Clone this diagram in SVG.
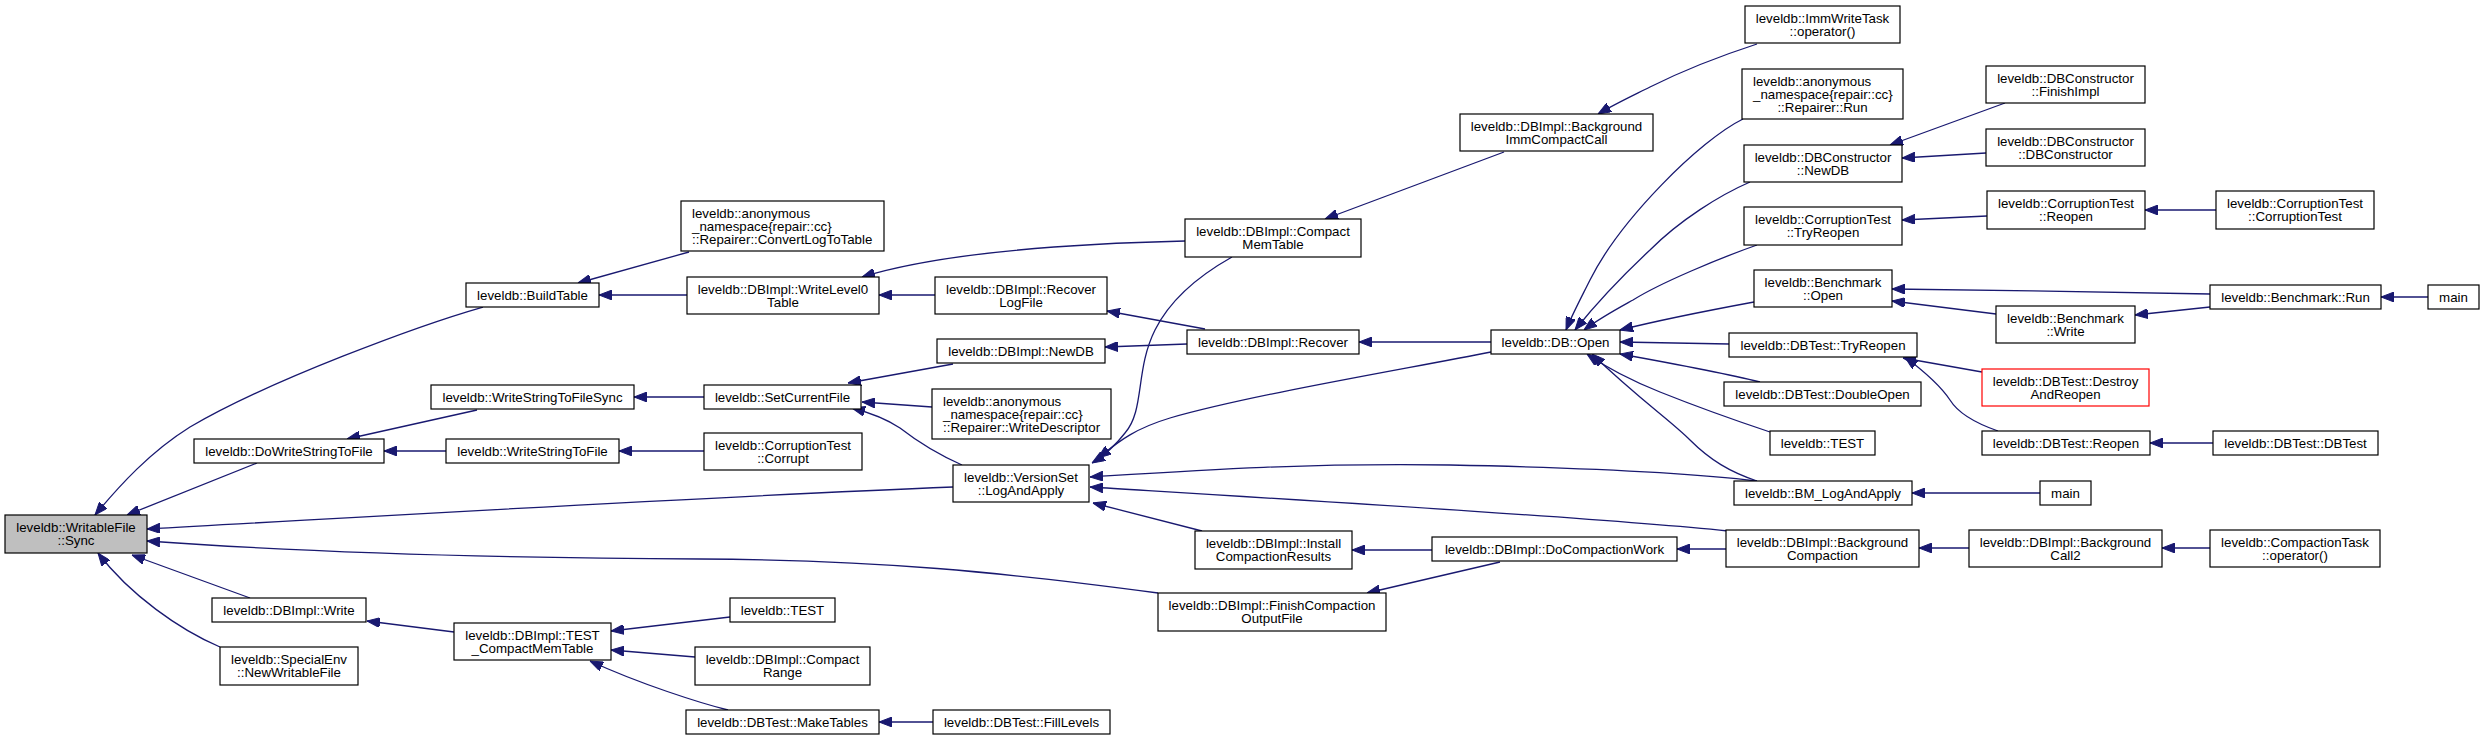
<svg xmlns="http://www.w3.org/2000/svg" width="2484" height="740" viewBox="0 0 2484 740">
<style>
.n rect{fill:#fff;stroke:#000;stroke-width:1.2}
.n.root rect{fill:#bfbfbf}
.n.red rect{stroke:#ff0000}
.n text{font-family:"Liberation Sans",Arial,sans-serif;font-size:13.3px;fill:#000;text-anchor:middle}
.n text.l{text-anchor:start}
#edges path{fill:none;stroke:#191970;stroke-width:1.3;marker-end:url(#ah)}
</style>
<defs>
<marker id="ah" viewBox="0 0 13 10" refX="13" refY="5" markerWidth="13" markerHeight="10" markerUnits="userSpaceOnUse" orient="auto">
<path d="M0,0 L13,5 L0,10 z" fill="#191970" stroke="#191970" stroke-width="1"/>
</marker>
</defs>
<rect width="2484" height="740" fill="#fff"/>
<g id="edges">
<path d="M483,307 C420,325 270,380 190,427 C150,452 120,485 95,515"/>
<path d="M257,463 L127,515"/>
<path d="M953,487 C700,497 400,515 147,529"/>
<path d="M1158,593 C1000,572 880,560 700,559 C500,558 300,552 147,541"/>
<path d="M250,598 L132,555"/>
<path d="M220,647 C180,630 130,595 98,553"/>
<path d="M689,252 L578,283"/>
<path d="M687,295 L599,295"/>
<path d="M1185,241 C1100,243 950,250 862,277"/>
<path d="M935,295 L879,295"/>
<path d="M477,410 L347,439"/>
<path d="M446,451 L384,451"/>
<path d="M704,397 L634,397"/>
<path d="M704,451 L619,451"/>
<path d="M953,364 L848,383"/>
<path d="M932,407 L862,402"/>
<path d="M962,465 C935,453 918,442 900,428 C888,420 875,414 852,408"/>
<path d="M454,632 L367,621"/>
<path d="M730,617 L611,631"/>
<path d="M695,657 L611,650"/>
<path d="M728,710 C700,703 640,684 590,661"/>
<path d="M933,722 L879,722"/>
<path d="M1205,329 L1107,311"/>
<path d="M1187,344 L1105,347"/>
<path d="M1504,152 L1325,219"/>
<path d="M1232,257 C1200,275 1170,300 1155,330 C1135,370 1145,410 1125,433 C1115,446 1105,455 1092,463"/>
<path d="M1491,352 C1400,370 1250,395 1170,418 C1130,430 1115,445 1098,458"/>
<path d="M1757,481 C1700,474 1600,468 1450,465 C1300,463 1200,470 1090,477"/>
<path d="M1728,531 C1600,518 1300,500 1090,487"/>
<path d="M1202,531 L1093,503"/>
<path d="M1432,550 L1352,550"/>
<path d="M1500,562 L1367,593"/>
<path d="M1726,549 L1677,549"/>
<path d="M1491,342 L1359,342"/>
<path d="M1757,44 C1720,56 1680,72 1650,87 C1630,97 1615,104 1598,114"/>
<path d="M1743,119 C1700,140 1620,220 1590,280 C1580,300 1572,315 1566,330"/>
<path d="M1750,182 C1720,195 1680,220 1650,250 C1620,278 1595,305 1575,330"/>
<path d="M1757,245 C1720,258 1660,283 1633,300 C1615,310 1600,318 1584,330"/>
<path d="M1754,302 C1700,312 1660,320 1620,330"/>
<path d="M1729,344 L1620,342"/>
<path d="M1760,382 C1720,372 1670,363 1620,354"/>
<path d="M1770,432 C1740,422 1700,408 1660,392 C1635,382 1610,370 1587,354"/>
<path d="M1757,481 C1730,472 1710,460 1690,440 C1670,420 1640,400 1592,354"/>
<path d="M2005,103 L1890,145"/>
<path d="M1986,153 L1902,158"/>
<path d="M1987,216 L1902,220"/>
<path d="M2216,210 L2145,210"/>
<path d="M2210,294 C2100,292 2000,290 1892,289"/>
<path d="M1996,314 L1892,301"/>
<path d="M2210,307 L2135,315"/>
<path d="M2428,297 L2381,297"/>
<path d="M1982,372 L1903,358"/>
<path d="M1998,431 C1975,423 1958,413 1950,400 C1940,385 1925,372 1905,357"/>
<path d="M2213,443 L2150,443"/>
<path d="M2040,493 L1912,493"/>
<path d="M1969,548 L1919,548"/>
<path d="M2210,548 L2162,548"/>
</g>
<g id="n_sync" class="n root"><rect x="5" y="515" width="142" height="38"/><text x="76" y="532">leveldb::WritableFile</text><text x="76" y="545">::Sync</text></g>
<g id="n_buildtable" class="n"><rect x="466" y="283" width="133" height="24"/><text x="532.5" y="299.5">leveldb::BuildTable</text></g>
<g id="n_dowrite" class="n"><rect x="194" y="439" width="190" height="24"/><text x="289" y="455.5">leveldb::DoWriteStringToFile</text></g>
<g id="n_write" class="n"><rect x="212" y="598" width="154" height="24"/><text x="289" y="614.5">leveldb::DBImpl::Write</text></g>
<g id="n_newwritable" class="n"><rect x="220" y="647" width="138" height="38"/><text x="289" y="664">leveldb::SpecialEnv</text><text x="289" y="677">::NewWritableFile</text></g>
<g id="n_convertlog" class="n"><rect x="681" y="201" width="203" height="50"/><text class="l" x="692" y="217.5">leveldb::anonymous</text><text class="l" x="692" y="230.5">_namespace{repair::cc}</text><text class="l" x="692" y="243.5">::Repairer::ConvertLogToTable</text></g>
<g id="n_writelevel0" class="n"><rect x="687" y="277" width="192" height="37"/><text x="783" y="294">leveldb::DBImpl::WriteLevel0</text><text x="783" y="307">Table</text></g>
<g id="n_wsfsync" class="n"><rect x="431" y="385" width="203" height="24"/><text x="532.5" y="401.5">leveldb::WriteStringToFileSync</text></g>
<g id="n_setcurrent" class="n"><rect x="704" y="385" width="157" height="24"/><text x="782.5" y="401.5">leveldb::SetCurrentFile</text></g>
<g id="n_wsf" class="n"><rect x="446" y="439" width="173" height="24"/><text x="532.5" y="455.5">leveldb::WriteStringToFile</text></g>
<g id="n_corrupt" class="n"><rect x="704" y="433" width="158" height="37"/><text x="783" y="450">leveldb::CorruptionTest</text><text x="783" y="463">::Corrupt</text></g>
<g id="n_testcmt" class="n"><rect x="454" y="623" width="157" height="37"/><text x="532.5" y="640">leveldb::DBImpl::TEST</text><text x="532.5" y="653">_CompactMemTable</text></g>
<g id="n_test1" class="n"><rect x="730" y="598" width="105" height="24"/><text x="782.5" y="614.5">leveldb::TEST</text></g>
<g id="n_compactrange" class="n"><rect x="695" y="647" width="175" height="38"/><text x="782.5" y="664">leveldb::DBImpl::Compact</text><text x="782.5" y="677">Range</text></g>
<g id="n_maketables" class="n"><rect x="686" y="710" width="193" height="24"/><text x="782.5" y="726.5">leveldb::DBTest::MakeTables</text></g>
<g id="n_filllevels" class="n"><rect x="933" y="710" width="177" height="24"/><text x="1021.5" y="726.5">leveldb::DBTest::FillLevels</text></g>
<g id="n_recoverlog" class="n"><rect x="935" y="277" width="172" height="37"/><text x="1021" y="294">leveldb::DBImpl::Recover</text><text x="1021" y="307">LogFile</text></g>
<g id="n_newdb" class="n"><rect x="937" y="339" width="168" height="24"/><text x="1021" y="355.5">leveldb::DBImpl::NewDB</text></g>
<g id="n_writedesc" class="n"><rect x="932" y="389" width="179" height="50"/><text class="l" x="943" y="405.5">leveldb::anonymous</text><text class="l" x="943" y="418.5">_namespace{repair::cc}</text><text class="l" x="943" y="431.5">::Repairer::WriteDescriptor</text></g>
<g id="n_logandapply" class="n"><rect x="953" y="465" width="136" height="37"/><text x="1021" y="482">leveldb::VersionSet</text><text x="1021" y="495">::LogAndApply</text></g>
<g id="n_install" class="n"><rect x="1195" y="531" width="157" height="38"/><text x="1273.5" y="548">leveldb::DBImpl::Install</text><text x="1273.5" y="561">CompactionResults</text></g>
<g id="n_finishcomp" class="n"><rect x="1158" y="593" width="228" height="38"/><text x="1272" y="610">leveldb::DBImpl::FinishCompaction</text><text x="1272" y="623">OutputFile</text></g>
<g id="n_compactmem" class="n"><rect x="1185" y="219" width="176" height="38"/><text x="1273" y="236">leveldb::DBImpl::Compact</text><text x="1273" y="249">MemTable</text></g>
<g id="n_bgimm" class="n"><rect x="1460" y="114" width="193" height="37"/><text x="1556.5" y="131">leveldb::DBImpl::Background</text><text x="1556.5" y="144">ImmCompactCall</text></g>
<g id="n_recover" class="n"><rect x="1187" y="330" width="172" height="24"/><text x="1273" y="346.5">leveldb::DBImpl::Recover</text></g>
<g id="n_dbopen" class="n"><rect x="1491" y="330" width="129" height="24"/><text x="1555.5" y="346.5">leveldb::DB::Open</text></g>
<g id="n_docompaction" class="n"><rect x="1432" y="537" width="245" height="24"/><text x="1554.5" y="553.5">leveldb::DBImpl::DoCompactionWork</text></g>
<g id="n_immwrite" class="n"><rect x="1745" y="6" width="155" height="37"/><text x="1822.5" y="23">leveldb::ImmWriteTask</text><text x="1822.5" y="36">::operator()</text></g>
<g id="n_repairrun" class="n"><rect x="1742" y="69" width="161" height="50"/><text class="l" x="1753" y="85.5">leveldb::anonymous</text><text class="l" x="1753" y="98.5">_namespace{repair::cc}</text><text x="1822.5" y="111.5">::Repairer::Run</text></g>
<g id="n_dbcnewdb" class="n"><rect x="1744" y="145" width="158" height="37"/><text x="1823" y="162">leveldb::DBConstructor</text><text x="1823" y="175">::NewDB</text></g>
<g id="n_ctryreopen" class="n"><rect x="1744" y="207" width="158" height="38"/><text x="1823" y="224">leveldb::CorruptionTest</text><text x="1823" y="237">::TryReopen</text></g>
<g id="n_benchopen" class="n"><rect x="1754" y="270" width="138" height="37"/><text x="1823" y="287">leveldb::Benchmark</text><text x="1823" y="300">::Open</text></g>
<g id="n_dbttryreopen" class="n"><rect x="1729" y="333" width="188" height="24"/><text x="1823" y="349.5">leveldb::DBTest::TryReopen</text></g>
<g id="n_doubleopen" class="n"><rect x="1724" y="382" width="197" height="24"/><text x="1822.5" y="398.5">leveldb::DBTest::DoubleOpen</text></g>
<g id="n_test2" class="n"><rect x="1770" y="431" width="105" height="24"/><text x="1822.5" y="447.5">leveldb::TEST</text></g>
<g id="n_bmlog" class="n"><rect x="1734" y="481" width="178" height="24"/><text x="1823" y="497.5">leveldb::BM_LogAndApply</text></g>
<g id="n_bgcompaction" class="n"><rect x="1726" y="530" width="193" height="37"/><text x="1822.5" y="547">leveldb::DBImpl::Background</text><text x="1822.5" y="560">Compaction</text></g>
<g id="n_finishimpl" class="n"><rect x="1986" y="66" width="159" height="37"/><text x="2065.5" y="83">leveldb::DBConstructor</text><text x="2065.5" y="96">::FinishImpl</text></g>
<g id="n_dbconstructor" class="n"><rect x="1986" y="129" width="159" height="37"/><text x="2065.5" y="146">leveldb::DBConstructor</text><text x="2065.5" y="159">::DBConstructor</text></g>
<g id="n_creopen" class="n"><rect x="1987" y="191" width="158" height="38"/><text x="2066" y="208">leveldb::CorruptionTest</text><text x="2066" y="221">::Reopen</text></g>
<g id="n_ccorruption" class="n"><rect x="2216" y="191" width="158" height="38"/><text x="2295" y="208">leveldb::CorruptionTest</text><text x="2295" y="221">::CorruptionTest</text></g>
<g id="n_benchrun" class="n"><rect x="2210" y="285" width="171" height="24"/><text x="2295.5" y="301.5">leveldb::Benchmark::Run</text></g>
<g id="n_main1" class="n"><rect x="2428" y="285" width="51" height="24"/><text x="2453.5" y="301.5">main</text></g>
<g id="n_benchwrite" class="n"><rect x="1996" y="306" width="139" height="37"/><text x="2065.5" y="323">leveldb::Benchmark</text><text x="2065.5" y="336">::Write</text></g>
<g id="n_destroy" class="n red"><rect x="1982" y="369" width="167" height="37"/><text x="2065.5" y="386">leveldb::DBTest::Destroy</text><text x="2065.5" y="399">AndReopen</text></g>
<g id="n_dbtreopen" class="n"><rect x="1982" y="431" width="168" height="24"/><text x="2066" y="447.5">leveldb::DBTest::Reopen</text></g>
<g id="n_dbtdbtest" class="n"><rect x="2213" y="431" width="165" height="24"/><text x="2295.5" y="447.5">leveldb::DBTest::DBTest</text></g>
<g id="n_main2" class="n"><rect x="2040" y="481" width="51" height="24"/><text x="2065.5" y="497.5">main</text></g>
<g id="n_bgcall2" class="n"><rect x="1969" y="530" width="193" height="37"/><text x="2065.5" y="547">leveldb::DBImpl::Background</text><text x="2065.5" y="560">Call2</text></g>
<g id="n_compactiontask" class="n"><rect x="2210" y="530" width="170" height="37"/><text x="2295" y="547">leveldb::CompactionTask</text><text x="2295" y="560">::operator()</text></g>
</svg>
